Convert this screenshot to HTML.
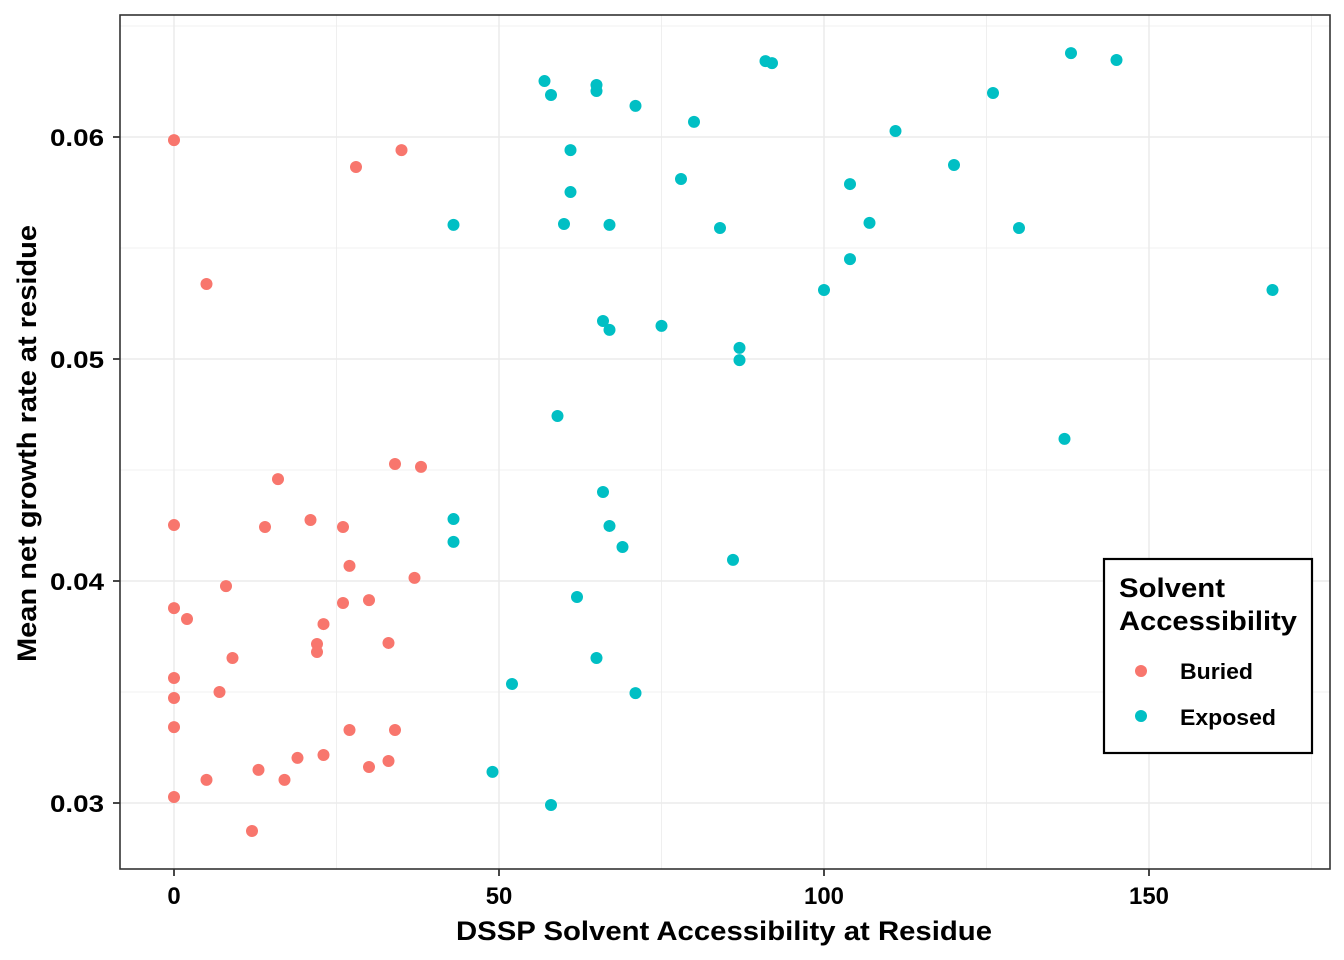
<!DOCTYPE html>
<html><head><meta charset="utf-8"><style>
html,body{margin:0;padding:0;background:#fff;}
svg{display:block;font-family:"Liberation Sans",Arial,sans-serif;}
</style></head><body>
<svg id="chart" width="1344" height="960" viewBox="0 0 1344 960">
<rect x="0" y="0" width="1344" height="960" fill="#fff"/>
<g id="grid"></g>
<g id="points"></g>
<rect x="120" y="15" width="1210" height="854" fill="none" stroke="#333" stroke-width="1.6"/>
<g id="axes"></g>
<text x="456" y="940" textLength="536" lengthAdjust="spacingAndGlyphs" font-size="27" font-weight="bold">DSSP Solvent Accessibility at Residue</text>
<text transform="translate(36,662) rotate(-90)" textLength="437" lengthAdjust="spacingAndGlyphs" font-size="27" font-weight="bold">Mean net growth rate at residue</text>
<g>
<rect x="1104" y="559" width="208" height="194" fill="#fff" stroke="#000" stroke-width="2.2"/>
<text font-size="27" font-weight="bold"><tspan x="1119" y="597" textLength="106" lengthAdjust="spacingAndGlyphs">Solvent</tspan><tspan x="1119" y="630" textLength="178" lengthAdjust="spacingAndGlyphs">Accessibility</tspan></text>
<circle cx="1141" cy="671" r="6" fill="#F8766D"/>
<text x="1180" y="679" textLength="73" lengthAdjust="spacingAndGlyphs" font-size="22" font-weight="bold">Buried</text>
<circle cx="1141" cy="716" r="6" fill="#00BFC4"/>
<text x="1180" y="725" textLength="96" lengthAdjust="spacingAndGlyphs" font-size="22" font-weight="bold">Exposed</text>
</g>
</svg>
<script>
const buriedX=[0,28,35,5,16,34,38,0,14,21,26,27,37,8,0,2,26,30,23,22,22,33,9,0,7,0,0,27,34,19,23,33,30,13,5,17,0,12];
const buriedY=[0.05986,0.05865,0.05941,0.05338,0.04459,0.04527,0.04514,0.04252,0.04243,0.04275,0.04243,0.04068,0.04014,0.03977,0.03878,0.03829,0.03901,0.03914,0.03806,0.03716,0.0368,0.03721,0.03653,0.03563,0.035,0.03473,0.03342,0.03329,0.03329,0.03203,0.03216,0.03189,0.03162,0.03149,0.03104,0.03104,0.03027,0.02874];
const exposedX=[57,65,65,58,71,91,92,138,145,126,80,111,61,120,78,104,61,43,60,67,84,107,130,104,100,169,66,67,75,87,87,59,137,66,43,67,69,43,86,62,65,52,71,49,58];
const exposedY=[0.06252,0.06234,0.06207,0.06189,0.0614,0.06342,0.06333,0.06378,0.06347,0.06198,0.06068,0.06027,0.05941,0.05874,0.05811,0.05788,0.05752,0.05604,0.05608,0.05604,0.0559,0.05613,0.0559,0.0545,0.05311,0.05311,0.05171,0.05131,0.05149,0.0505,0.04995,0.04743,0.0464,0.04401,0.04279,0.04248,0.04153,0.04176,0.04095,0.03928,0.03653,0.03536,0.03495,0.0314,0.02991];
const xTicks=[0,50,100,150];
const xMinor=[25,75,125,175];
const yTicks=[0.03,0.04,0.05,0.06];
const yMinor=[0.035,0.045,0.055,0.065];
const yTickLabels=["0.03","0.04","0.05","0.06"];

const NS="http://www.w3.org/2000/svg";
function sx(v){return 174+v*6.5;}
function sy(v){return 137+(0.06-v)*22200;}
function mk(tag,attrs,parent){const e=document.createElementNS(NS,tag);for(const k in attrs)e.setAttribute(k,attrs[k]);parent.appendChild(e);return e;}
const grid=document.getElementById('grid'),pts=document.getElementById('points'),axes=document.getElementById('axes');
xMinor.forEach(v=>{const l=mk('line',{x1:sx(v),x2:sx(v),y1:15,y2:869,stroke:'#ebebeb','stroke-width':0.8},grid);

});
yMinor.forEach(v=>{const l=mk('line',{x1:120,x2:1330,y1:sy(v),y2:sy(v),stroke:'#ebebeb','stroke-width':0.8},grid);

});
xTicks.forEach(v=>{const l=mk('line',{x1:sx(v),x2:sx(v),y1:15,y2:869,stroke:'#ebebeb','stroke-width':1.5},grid);


const t=mk('line',{x1:sx(v),x2:sx(v),y1:869,y2:876,stroke:'#333','stroke-width':1.8},axes);


const s=String(v);
const tx=mk('text',{x:sx(v),y:904,'text-anchor':'middle','font-size':24,'font-weight':'bold',textLength:s.length*13.3,lengthAdjust:'spacingAndGlyphs'},axes);tx.textContent=s;

});
yTicks.forEach((v,i)=>{const l=mk('line',{x1:120,x2:1330,y1:sy(v),y2:sy(v),stroke:'#ebebeb','stroke-width':1.5},grid);


const t=mk('line',{x1:113,x2:120,y1:sy(v),y2:sy(v),stroke:'#333','stroke-width':1.8},axes);


const tx=mk('text',{x:50,y:sy(v)+9,'font-size':24,'font-weight':'bold',textLength:54,lengthAdjust:'spacingAndGlyphs'},axes);tx.textContent=yTickLabels[i];

});
buriedX.forEach((x,i)=>{const c=mk('circle',{cx:sx(x),cy:sy(buriedY[i]),r:6,fill:'#F8766D'},pts);

});
exposedX.forEach((x,i)=>{const c=mk('circle',{cx:sx(x),cy:sy(exposedY[i]),r:6,fill:'#00BFC4'},pts);

});
</script>
</body></html>
